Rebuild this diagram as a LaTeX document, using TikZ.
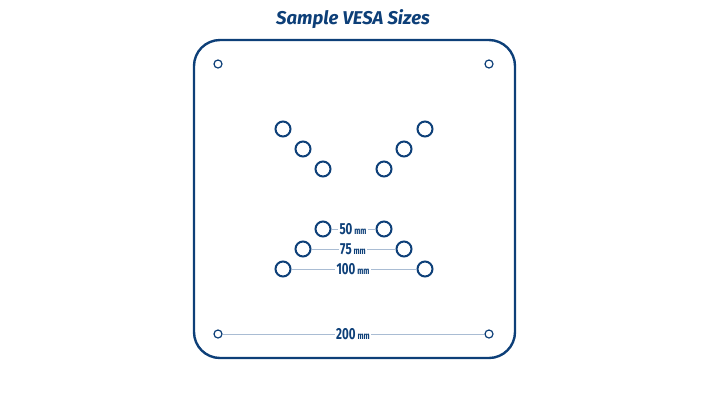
\documentclass[tikz,border=0pt]{standalone}
\usepackage{fontspec}
\setmainfont{Fira Sans}
\usetikzlibrary{calc, positioning}
\definecolor{vesaBlue}{HTML}{0D3F78}
\definecolor{vesaGrey}{HTML}{A9BCD3}
\tikzset{
    plate/.style={draw=vesaBlue, line width=2.4pt, rounded corners=26pt},
    holeS/.style={circle, draw=vesaBlue, line width=1.2pt, inner sep=0pt, minimum size=8pt},
    holeL/.style={circle, draw=vesaBlue, line width=2pt, inner sep=0pt, minimum size=15pt},
    sizeLbl/.style={text=vesaBlue, font=\bfseries\fontsize{16}{16}\selectfont, inner sep=1.5pt},
    dimLine/.style={draw=vesaGrey, line width=1pt},
}
\newcommand{\mmText}[1]{\scalebox{0.72}[1]{#1\,{\fontsize{10}{10}\selectfont mm}}}
\newcommand{\drawDim}[4]{
    % label in the middle, grey lines out to the holes
    \node[sizeLbl] (#1) at (353, #4) {\mmText{#2}};
    \draw[dimLine] (#3l) -- (#1);
    \draw[dimLine] (#1) -- (#3r);
}

\begin{document}
\begin{tikzpicture}[x=1pt, y=-1pt]
        \useasboundingbox (0,0) rectangle (708,400);

        \node[text=vesaBlue, font=\bfseries\itshape\fontsize{18.5}{18.5}\selectfont] (title) at (353, 19) {Sample VESA Sizes};
        \draw[plate] (194, 40) rectangle (515, 358);

        % corner holes (200 mm)
        \node[holeS] (cTL) at (218, 64) {};
        \node[holeS] (cTR) at (489, 64) {};
        \node[holeS] (dl) at (218, 334) {};
        \node[holeS] (dr) at (489, 334) {};

        % upper holes
        \node[holeL] (uL1) at (283, 129) {};
        \node[holeL] (uL2) at (303, 149) {};
        \node[holeL] (uL3) at (323, 169) {};
        \node[holeL] (uR3) at (384, 169) {};
        \node[holeL] (uR2) at (404, 149) {};
        \node[holeL] (uR1) at (425, 129) {};

        % lower holes
        \node[holeL] (al) at (323, 229) {};
        \node[holeL] (ar) at (384, 229) {};
        \node[holeL] (bl) at (303, 249) {};
        \node[holeL] (br) at (404, 249) {};
        \node[holeL] (cl) at (283, 269) {};
        \node[holeL] (cr) at (425, 269) {};

        \drawDim{m50}{50}{a}{229}
        \drawDim{m75}{75}{b}{249}
        \drawDim{m100}{100}{c}{269}
        \drawDim{m200}{200}{d}{334}

    \end{tikzpicture}
\end{document}
